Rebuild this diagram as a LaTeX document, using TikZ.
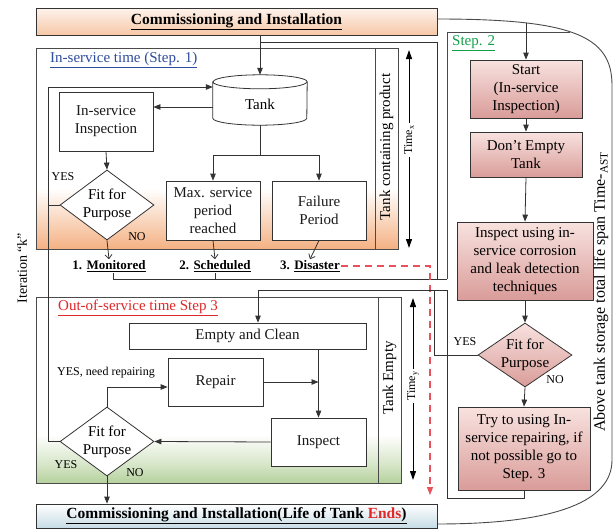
\documentclass[tikz,border=0pt]{standalone}
\usepackage{fontspec}
\setmainfont{Liberation Serif}
\usetikzlibrary{arrows.meta,shapes.geometric}

\definecolor{ink}{HTML}{333333}
\definecolor{frameink}{HTML}{4A4A4A}
\definecolor{bandO}{HTML}{F4B183}
\definecolor{bandG}{HTML}{B5D19C}
\definecolor{peachT}{HTML}{FDF2EA}
\definecolor{peachB}{HTML}{F6C7A6}
\definecolor{pinkT}{HTML}{F8E2DF}
\definecolor{pinkB}{HTML}{D99C99}
\definecolor{blueB}{HTML}{C7DCE6}
\definecolor{dashR}{HTML}{E8505A}
\definecolor{stepblue}{HTML}{2E4C9C}
\definecolor{stepred}{HTML}{E02828}
\definecolor{stepgreen}{HTML}{12A04A}

\pgfdeclareverticalshading{bandorange}{100bp}{color(0bp)=(bandO); color(25bp)=(bandO); color(31bp)=(bandO!60!white); color(40bp)=(white); color(100bp)=(white)}
\pgfdeclareverticalshading{bandgreen}{100bp}{color(0bp)=(bandG); color(25bp)=(bandG); color(30bp)=(bandG!55!white); color(38bp)=(white); color(100bp)=(white)}

\newcommand\boxfont{\fontsize{15}{18}\selectfont}
\newcommand\headfont{\fontsize{15.5}{18}\selectfont\bfseries}
\newcommand\tagfont{\fontsize{13}{15}\selectfont\bfseries}
\newcommand\notefont{\fontsize{12}{14}\selectfont}
\newcommand\sidefont{\fontsize{15}{18}\selectfont}

\begin{document}
\begin{tikzpicture}[x=1pt,y=-1pt,
  ln/.style={draw=ink, line width=0.8pt},
  frame/.style={draw=frameink, line width=0.9pt},
  wbox/.style={ln, fill=white, align=center, font=\boxfont, inner sep=0pt, text=black!90},
  pbox/.style={ln, top color=pinkT, bottom color=pinkB, align=center, font=\boxfont, inner sep=0pt},
  choice/.style={diamond, ln, fill=white, inner sep=0pt, minimum width=94pt},
  arr/.style={ln, -{Triangle[length=7pt,width=5.5pt]}},
  oarr/.style={ln, -{Straight Barb[length=4pt,width=7pt]}},
  dbl/.style={draw=black, line width=1pt, {Triangle[length=9pt,width=6pt]}-{Triangle[length=9pt,width=6pt]}},
  dashred/.style={draw=dashR, line width=1.1pt, dash pattern=on 7pt off 5pt, -{Triangle[length=8pt,width=6pt]}},
  tag/.style={font=\tagfont, inner sep=1pt},
  note/.style={font=\notefont, inner sep=1pt},
  side/.style={font=\sidefont, rotate=90, inner sep=1pt},
  timelbl/.style={font=\notefont, rotate=90, fill=white, inner sep=2pt},
]
\useasboundingbox (0,0) rectangle (616,530);

% ---------- life-span bracket and step 2 frame ----------
\coordinate (arcTop) at (437,19);
\coordinate (arcBot) at (437,524);
\draw[frame] (arcTop) .. controls (570,19) and (612,35) .. (612,85)
  -- (612,460) .. controls (612,500) and (560,524) .. (arcBot);
\draw[frame] (447,279) -- (447,32) -- (570,32);
\node[side, font=\fontsize{16}{18}\selectfont] (lifespan) at (601,292) {Above tank storage total life span Time-\textsubscript{AST}};

% ---------- frames ----------
\draw[frame, shade, shading=bandorange] (36,48) rectangle (398,249);
\draw[frame] (375,48) -- (375,249);
\draw[frame, shade, shading=bandgreen] (36,297) rectangle (401,483);
\draw[frame] (378,297) -- (378,483);

\node[font=\boxfont, text=stepblue, anchor=west, inner sep=0pt] (s1lbl) at (50,60) {\underline{In-service time (Step. 1)}};
\node[font=\boxfont, text=stepred, anchor=west, inner sep=0pt] (s3lbl) at (58,308) {\underline{Out-of-service time Step 3}};
\node[font=\boxfont, text=stepgreen, anchor=west, inner sep=0pt] (s2lbl) at (452,43) {\underline{Step. 2}};

\node[side] (s1side) at (386.5,147) {Tank containing product};
\node[side] (s3side) at (389.5,378) {Tank Empty};
\node[side, font=\fontsize{14}{16}\selectfont] (iter) at (22,268) {Iteration “k”};

% ---------- top and bottom bars ----------
\node[ln, top color=peachT, bottom color=peachB, minimum width=401pt, minimum height=27pt, font=\headfont, inner sep=0pt]
  (topbox) at (236.5,22) {\underline{Commissioning and Installation}};
\node[ln, top color=white, bottom color=blueB, minimum width=401pt, minimum height=24pt, font=\headfont, inner sep=0pt]
  (botbox) at (236.5,516) {\underline{Commissioning and Installation(Life of Tank \textcolor{stepred}{Ends})}};

% ---------- step 1 ----------
\node[minimum width=94pt, minimum height=50pt, inner sep=0pt] (tank) at (260,100) {};
\draw[ln, fill=white] ([yshift=-7pt]tank.north west) -- ([yshift=7pt]tank.south west)
  arc[start angle=180, end angle=360, x radius=47pt, y radius=7pt]
  -- ([yshift=-7pt]tank.north east)
  arc[start angle=0, end angle=180, x radius=47pt, y radius=7pt] -- cycle;
\draw[ln] ([yshift=-7pt]tank.north west) arc[start angle=180, end angle=360, x radius=47pt, y radius=7pt];
\node[font=\boxfont, inner sep=0pt] (tanktxt) at ([yshift=-4pt]tank.center) {Tank};

\node[wbox, minimum width=94pt, minimum height=59pt] (insp) at (106,121.5) {In-service\\Inspection};
\node[choice, minimum height=70pt, label={[font=\boxfont, align=center]center:Fit for\\Purpose}] (d1) at (107,205) {};
\node[wbox, minimum width=94pt, minimum height=59pt] (maxb) at (213,210.5) {Max. service\\period\\reached};
\node[wbox, minimum width=94pt, minimum height=59pt] (failb) at (319,210.5) {Failure\\Period};

\node[note] (yes1) at (63,177) {YES};
\node[note] (no1) at (137,237) {NO};

\node[tag] (mon) at (109,266) {1. \underline{Monitored}};
\node[tag] (sch) at (215,266) {2. \underline{Scheduled}};
\node[tag] (dis) at (310,266) {3. \underline{Disaster}};

\draw[dbl] (409,50) -- (409,248);
\node[timelbl] (timex) at (409,140) {Time\textsubscript{x}};

% ---------- step 3 ----------
\node[wbox, minimum width=237pt, minimum height=26pt] (ec) at (247.5,336) {Empty and Clean};
\node[wbox, minimum width=95pt, minimum height=48pt] (rep) at (215.5,382) {Repair};
\node[wbox, minimum width=95pt, minimum height=48pt] (insp3) at (318.5,442) {Inspect};
\node[choice, minimum height=69pt, label={[font=\boxfont, align=center]center:Fit for\\Purpose}] (d3) at (107,441.5) {};

\node[note] (yesrep) at (106,373) {YES, need repairing};
\node[note] (yes3) at (66,465) {YES};
\node[note] (no3) at (135,473) {NO};

\draw[dbl] (413,298) -- (413,480);
\node[timelbl] (timey) at (413,386) {Time\textsubscript{y}};

% ---------- step 2 ----------
\node[pbox, minimum width=112pt, minimum height=58pt] (start) at (526,89) {Start\\(In-service\\Inspection)};
\node[pbox, minimum width=112pt, minimum height=45pt] (dont) at (526,154.5) {Don't Empty\\Tank};
\node[pbox, minimum width=136pt, minimum height=78pt] (insu) at (525,261) {Inspect using in-\\service corrosion\\and leak detection\\techniques};
\node[diamond, ln, top color=pinkT, bottom color=pinkB, inner sep=0pt, minimum width=94pt, minimum height=64pt,
  label={[font=\boxfont, align=center]center:Fit for\\Purpose}] (d2) at (525,355) {};
\node[pbox, minimum width=132pt, minimum height=83pt] (tryb) at (524,448.5) {Try to using In-\\service repairing, if\\not possible go to\\Step. 3};

\node[note] (yes2) at (465,342) {YES};
\node[note] (no2) at (555,380) {NO};

% ---------- connectors ----------
\coordinate (topjoin) at (260,42);
\coordinate (loopR) at (437,279);
\coordinate (rail) at (48,87);
\coordinate (ecjoin) at (258,290);
\coordinate (retR) at (447,498);
\coordinate (yesR) at (434,290);
\coordinate (s2in) at (526,23);
\coordinate (redend) at (430,495);

\draw[arr] (topbox.south -| tank.north) -- (tank.north);
\draw[ln] ([xshift=4pt]mon.south) |- (loopR) |- (topjoin);
\draw[ln] (loopR) -- (loopR -| 447,0);
\draw[ln] (sch.south) -- (sch.south |- loopR);
\draw[arr] ([yshift=-7pt]tank.west) -- ([yshift=-7pt]tank.west -| insp.east);
\draw[ln] (tank.south) -- (260,155) coordinate (split);
\draw[arr] (split) -| (maxb.north);
\draw[arr] (split) -| (failb.north);
\draw[arr] (insp.south) -- (d1.north);
\draw[oarr] (d1.south) -- (mon.north);
\draw[oarr] (maxb.south) -- (sch.north);
\draw[oarr] (failb.south) -- (dis.north);
\draw[ln] (d1.west) -- (d1.west -| rail);
\draw[arr] (d3.west) -| (rail) -- (rail -| tank.west);
\draw[dashred] (dis.east) -| (redend);

\draw[arr] (ecjoin) -- (ecjoin |- ec.north);
\draw[arr] (ec.south -| insp3.north) -- (insp3.north);
\draw[arr] (rep.east) -- (rep.east -| insp3.north);
\draw[arr] (insp3.west) -- (d3.east);
\draw[arr] (d3.north) |- ([yshift=-5pt]rep.west);
\draw[arr] (d3.south) -- (d3.south |- botbox.north);

\draw[arr] (s2in) -- (start.north);
\draw[arr] (start.south) -- (dont.north);
\draw[arr] (dont.south) -- (insu.north);
\draw[arr] (insu.south) -- (d2.north);
\draw[arr] (d2.south) -- (tryb.south |- tryb.north);
\draw[ln] (tryb.south) |- (retR) |- (ecjoin);
\draw[ln] (d2.west) -| (yesR);
\end{tikzpicture}
\end{document}
